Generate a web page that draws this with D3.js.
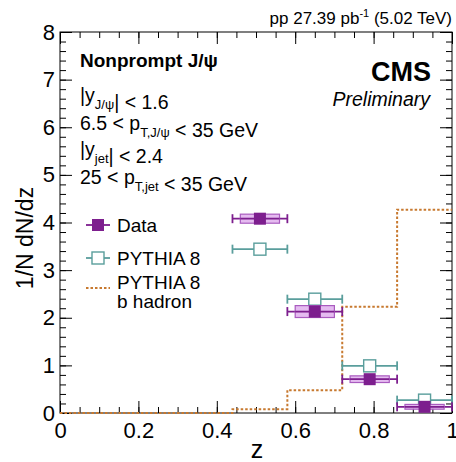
<!DOCTYPE html>
<html>
<head>
<meta charset="utf-8">
<script src="https://cdn.jsdelivr.net/npm/d3@7"></script>
<style>
  html, body { margin: 0; padding: 0; background: #fff; }
  svg { display: block; font-family: "Liberation Sans", Arial, Helvetica, sans-serif; }
</style>
</head>
<body>
<svg id="chart" width="456" height="462"></svg>
<script>
// z = fraction of jet momentum carried by the nonprompt J/psi
const zBinCenters = [0.51, 0.65, 0.79, 0.93];
const zBinHalfWidth = 0.07;
const systBoxHalfWidth = 0.05;

const dataValues = [4.08, 2.13, 0.71, 0.13];
const dataSyst = [0.095, 0.125, 0.07, 0.05];

const pythiaValues = [3.44, 2.39, 0.99, 0.27];

const bHadronEdges = [0, 0.44, 0.58, 0.72, 0.86, 1.0];
const bHadronValues = [0, 0.08, 0.48, 2.23, 4.27];

const xMajorTicks = [0, 0.2, 0.4, 0.6, 0.8, 1];
const xTickLabels = ["0", "0.2", "0.4", "0.6", "0.8", "1"];
const xMinorTicks = d3.range(0, 1.0001, 0.05);
const yMajorTicks = [0, 1, 2, 3, 4, 5, 6, 7, 8];
const yTickLabels = ["0", "1", "2", "3", "4", "5", "6", "7", "8"];
const yMinorTicks = d3.range(0, 8.0001, 0.2);

const colData = "#7d1e8e";
const colDataBox = "#e2b4ee";
const colDataBoxEdge = "#a95bbf";
const colPythia = "#5a9e9c";
const colBHadron = "#c7792f";

const margin = { left: 60, right: 4, top: 32, bottom: 49 };
const W = 456, H = 462;
const x = d3.scaleLinear().domain([0, 1]).range([margin.left, W - margin.right]);
const y = d3.scaleLinear().domain([0, 8]).range([H - margin.bottom, margin.top]);

const svg = d3.select("#chart");

// frame
svg.append("rect")
  .attr("x", x(0)).attr("y", y(8))
  .attr("width", x(1) - x(0)).attr("height", y(0) - y(8))
  .attr("fill", "none").attr("stroke", "#000").attr("stroke-width", 1);

function styleAxis(g) {
  g.select(".domain").remove();
  g.selectAll("line").attr("stroke", "#000").attr("stroke-width", 1);
  g.selectAll("text").attr("fill", "#000").attr("font-size", 22);
}

// x axes (bottom with labels, top mirrored)
svg.append("g").attr("transform", `translate(0,${y(0)})`)
  .call(d3.axisBottom(x).tickValues(xMinorTicks).tickSize(-6).tickFormat(""))
  .call(styleAxis);
svg.append("g").attr("transform", `translate(0,${y(0)})`)
  .call(d3.axisBottom(x).tickValues(xMajorTicks).tickSize(-12).tickPadding(9)
    .tickFormat((d, i) => xTickLabels[i]))
  .call(styleAxis);
svg.append("g").attr("transform", `translate(0,${y(8)})`)
  .call(d3.axisTop(x).tickValues(xMinorTicks).tickSize(-6).tickFormat(""))
  .call(styleAxis);
svg.append("g").attr("transform", `translate(0,${y(8)})`)
  .call(d3.axisTop(x).tickValues(xMajorTicks).tickSize(-12).tickFormat(""))
  .call(styleAxis);

// y axes (left with labels, right mirrored)
svg.append("g").attr("transform", `translate(${x(0)},0)`)
  .call(d3.axisLeft(y).tickValues(yMinorTicks).tickSize(-6).tickFormat(""))
  .call(styleAxis);
svg.append("g").attr("transform", `translate(${x(0)},0)`)
  .call(d3.axisLeft(y).tickValues(yMajorTicks).tickSize(-12).tickPadding(5)
    .tickFormat((d, i) => yTickLabels[i]))
  .call(styleAxis);
svg.append("g").attr("transform", `translate(${x(1)},0)`)
  .call(d3.axisRight(y).tickValues(yMinorTicks).tickSize(-6).tickFormat(""))
  .call(styleAxis);
svg.append("g").attr("transform", `translate(${x(1)},0)`)
  .call(d3.axisRight(y).tickValues(yMajorTicks).tickSize(-12).tickFormat(""))
  .call(styleAxis);

// axis titles
svg.append("text").attr("x", 257).attr("y", 458)
  .attr("text-anchor", "middle").attr("font-size", 25).text("z");
svg.append("text")
  .attr("transform", "translate(33,238) rotate(-90)")
  .attr("text-anchor", "middle").attr("font-size", 23).text("1/N dN/dz");

// b-hadron PYTHIA histogram (dotted step line)
const stepPts = [];
bHadronValues.forEach((v, i) => {
  stepPts.push([bHadronEdges[i], v]);
  stepPts.push([bHadronEdges[i + 1], v]);
});
svg.append("path")
  .attr("d", d3.line().x(d => x(d[0])).y(d => y(d[1]))(stepPts))
  .attr("fill", "none").attr("stroke", colBHadron)
  .attr("stroke-width", 2).attr("stroke-dasharray", "2.5,2");

const capH = 4.5;
const markerS = 12;

// PYTHIA 8 points
const py = svg.append("g");
zBinCenters.forEach((c, i) => {
  const yy = y(pythiaValues[i]);
  py.append("line").attr("x1", x(c - zBinHalfWidth)).attr("x2", x(c + zBinHalfWidth))
    .attr("y1", yy).attr("y2", yy).attr("stroke", colPythia).attr("stroke-width", 1.8);
  [c - zBinHalfWidth, c + zBinHalfWidth].forEach(e => {
    py.append("line").attr("x1", x(e)).attr("x2", x(e))
      .attr("y1", yy - capH).attr("y2", yy + capH)
      .attr("stroke", colPythia).attr("stroke-width", 1.8);
  });
  py.append("rect").attr("x", x(c) - markerS / 2).attr("y", yy - markerS / 2)
    .attr("width", markerS).attr("height", markerS)
    .attr("fill", "#fff").attr("stroke", colPythia).attr("stroke-width", 1.4);
});

// Data points with systematic boxes
const dg = svg.append("g");
zBinCenters.forEach((c, i) => {
  const v = dataValues[i];
  const yy = y(v);
  dg.append("line").attr("x1", x(c - zBinHalfWidth)).attr("x2", x(c + zBinHalfWidth))
    .attr("y1", yy).attr("y2", yy).attr("stroke", colData).attr("stroke-width", 1.8);
  [c - zBinHalfWidth, c + zBinHalfWidth].forEach(e => {
    dg.append("line").attr("x1", x(e)).attr("x2", x(e))
      .attr("y1", yy - capH).attr("y2", yy + capH)
      .attr("stroke", colData).attr("stroke-width", 1.8);
  });
  dg.append("rect")
    .attr("x", x(c - systBoxHalfWidth)).attr("y", y(v + dataSyst[i]))
    .attr("width", x(c + systBoxHalfWidth) - x(c - systBoxHalfWidth))
    .attr("height", y(v - dataSyst[i]) - y(v + dataSyst[i]))
    .attr("fill", colDataBox).attr("fill-opacity", 0.9)
    .attr("stroke", colDataBoxEdge).attr("stroke-width", 1.2);
  dg.append("line").attr("x1", x(c - systBoxHalfWidth)).attr("x2", x(c + systBoxHalfWidth))
    .attr("y1", yy).attr("y2", yy).attr("stroke", colData).attr("stroke-width", 1.8);
  dg.append("rect").attr("x", x(c) - markerS / 2).attr("y", yy - markerS / 2)
    .attr("width", markerS).attr("height", markerS).attr("fill", colData);
});

// header and labels
svg.append("text").attr("x", 452).attr("y", 24).attr("text-anchor", "end")
  .attr("font-size", 17)
  .call(t => {
    t.append("tspan").text("pp 27.39 pb");
    t.append("tspan").attr("dy", -7).attr("font-size", 11).text("-1");
    t.append("tspan").attr("dy", 7).text(" (5.02 TeV)");
  });

svg.append("text").attr("x", 431).attr("y", 81).attr("text-anchor", "end")
  .attr("font-size", 27).attr("font-weight", "bold").text("CMS");
svg.append("text").attr("x", 430).attr("y", 106).attr("text-anchor", "end")
  .attr("font-size", 19.5).attr("font-style", "italic").text("Preliminary");

svg.append("text").attr("x", 80).attr("y", 67).attr("font-size", 19)
  .attr("font-weight", "bold").text("Nonprompt J/ψ");

function subLine(yb, parts) {
  const t = svg.append("text").attr("x", 80).attr("y", yb).attr("font-size", 19.5);
  parts.forEach(p => {
    if (p.sub) {
      t.append("tspan").attr("dy", 7).attr("font-size", 13).text(p.sub);
      t.append("tspan").attr("dy", -7).text("");
    } else {
      t.append("tspan").text(p.t);
    }
  });
}
subLine(102, [{ t: "|y" }, { sub: "J/ψ" }, { t: "| < 1.6" }]);
subLine(130, [{ t: "6.5 < p" }, { sub: "T,J/ψ" }, { t: " < 35 GeV" }]);
subLine(156, [{ t: "|y" }, { sub: "jet" }, { t: "| < 2.4" }]);
subLine(184, [{ t: "25 < p" }, { sub: "T,jet" }, { t: " < 35 GeV" }]);

// legend
const lg = svg.append("g");
const legX1 = 86, legX2 = 110, legXm = 98;
lg.append("line").attr("x1", legX1).attr("x2", legX2).attr("y1", 225).attr("y2", 225)
  .attr("stroke", colData).attr("stroke-width", 1.8);
lg.append("rect").attr("x", legXm - 6).attr("y", 225 - 6).attr("width", 12).attr("height", 12)
  .attr("fill", colData);
lg.append("text").attr("x", 117).attr("y", 232).attr("font-size", 19).text("Data");

lg.append("line").attr("x1", legX1).attr("x2", legX2).attr("y1", 258).attr("y2", 258)
  .attr("stroke", colPythia).attr("stroke-width", 1.8);
lg.append("rect").attr("x", legXm - 6).attr("y", 258 - 6).attr("width", 12).attr("height", 12)
  .attr("fill", "#fff").attr("stroke", colPythia).attr("stroke-width", 1.4);
lg.append("text").attr("x", 117).attr("y", 265).attr("font-size", 19).text("PYTHIA 8");

lg.append("line").attr("x1", legX1).attr("x2", legX2).attr("y1", 288).attr("y2", 288)
  .attr("stroke", colBHadron).attr("stroke-width", 2).attr("stroke-dasharray", "2.5,2");
lg.append("text").attr("x", 117).attr("y", 289).attr("font-size", 19).text("PYTHIA 8");
lg.append("text").attr("x", 117).attr("y", 308).attr("font-size", 19).text("b hadron");
</script>
</body>
</html>
